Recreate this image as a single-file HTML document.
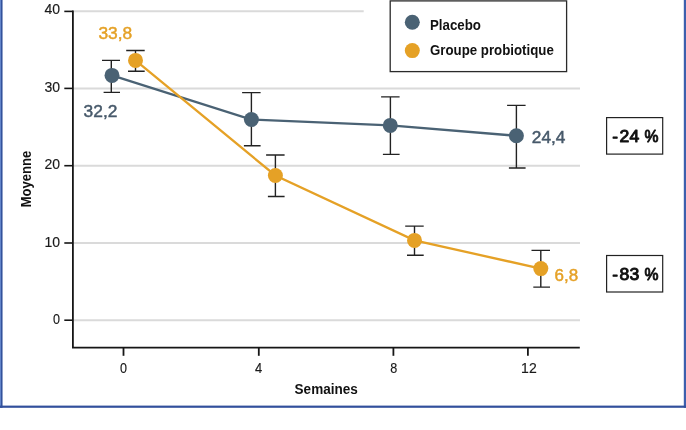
<!DOCTYPE html>
<html lang="fr">
<head>
<meta charset="utf-8">
<title>Moyenne – Placebo vs Groupe probiotique</title>
<style>
html,body{margin:0;padding:0;background:#fff;}
body{width:686px;height:430px;overflow:hidden;position:relative;}
svg{display:block;position:absolute;left:0;top:0;}
text{font-family:"Liberation Sans",sans-serif;}
.tick{font-size:14px;fill:#1a1a1a;stroke:#1a1a1a;stroke-width:0.15px;}
.bold{font-weight:bold;fill:#111;}
.pct{font-size:17.2px;fill:#111;stroke:#111;stroke-width:0.95px;stroke-linejoin:round;}
.val{font-size:16.4px;stroke-width:0.45px;}
</style>
</head>
<body>
<svg width="686" height="430" viewBox="0 0 686 430">
  <rect x="0" y="0" width="686" height="430" fill="#ffffff"/>
  <!-- frame -->
  <g>
    <rect x="0" y="0" width="2.55" height="407.8" fill="#33529c"/>
    <rect x="0" y="0" width="1" height="407.8" fill="#6485ca"/>
    <rect x="683.8" y="0" width="2.2" height="407.8" fill="#3d5fad"/>
    <rect x="0" y="405.6" width="686" height="2.2" fill="#32509c"/>
  </g>

  <!-- grid lines -->
  <g stroke="#dadada" stroke-width="2">
    <line x1="73" y1="11.2" x2="363.7" y2="11.2"/>
    <line x1="73" y1="88.5" x2="580" y2="88.5"/>
    <line x1="73" y1="165.8" x2="580" y2="165.8"/>
    <line x1="73" y1="243.1" x2="580" y2="243.1"/>
    <line x1="73" y1="320.2" x2="580" y2="320.2"/>
  </g>

  <!-- axes -->
  <g stroke="#161616" stroke-width="1.8" fill="none">
    <polyline points="72.9,10.6 72.9,347.7 579.8,347.7"/>
    <line x1="64.3" y1="11.4" x2="72.9" y2="11.4" stroke-width="1.6"/>
    <line x1="64.3" y1="88.4" x2="72.9" y2="88.4" stroke-width="1.6"/>
    <line x1="64.3" y1="165.7" x2="72.9" y2="165.7" stroke-width="1.6"/>
    <line x1="64.3" y1="243.0" x2="72.9" y2="243.0" stroke-width="1.6"/>
    <line x1="64.3" y1="320.2" x2="72.9" y2="320.2" stroke-width="1.6"/>
    <line x1="123.5" y1="347.7" x2="123.5" y2="355.8"/>
    <line x1="258.8" y1="347.7" x2="258.8" y2="355.8"/>
    <line x1="393.4" y1="347.7" x2="393.4" y2="355.8"/>
    <line x1="527.9" y1="347.7" x2="527.9" y2="355.8"/>
  </g>

  <!-- y tick labels -->
  <g class="tick" text-anchor="end">
    <text x="60.1" y="14.0">40</text>
    <text x="60.1" y="91.9">30</text>
    <text x="60.1" y="169.4">20</text>
    <text x="60.1" y="246.8">10</text>
    <text x="60.0" y="324.0" textLength="7" lengthAdjust="spacingAndGlyphs">0</text>
  </g>
  <!-- x tick labels -->
  <g class="tick" text-anchor="middle">
    <text x="123.6" y="373.2" textLength="7" lengthAdjust="spacingAndGlyphs">0</text>
    <text x="258.5" y="373.2" textLength="7.2" lengthAdjust="spacingAndGlyphs">4</text>
    <text x="393.8" y="373.2" textLength="7" lengthAdjust="spacingAndGlyphs">8</text>
    <text x="528.9" y="373.2">12</text>
  </g>

  <!-- axis titles -->
  <text class="bold" x="294.6" y="393.6" font-size="14" textLength="63.2" lengthAdjust="spacingAndGlyphs">Semaines</text>
  <text class="bold" transform="translate(31.3 207.3) rotate(-90)" font-size="14" textLength="56.6" lengthAdjust="spacingAndGlyphs">Moyenne</text>

  <!-- error bars -->
  <g stroke="#222" stroke-width="1.4" fill="none">
    <path d="M111.3 60.4V92.4M102.0 60.4H120.0M103.6 92.4H120.0"/>
    <path d="M251.4 92.6V145.7M242.1 92.6H260.6M243.9 145.7H260.6"/>
    <path d="M390.4 96.9V154.4M381.1 96.9H399.6M382.9 154.4H399.6"/>
    <path d="M516.4 105.4V168.0M507.1 105.4H525.6M508.9 168.0H525.6"/>
    <path d="M135.5 50.5V71.2M126.2 50.5H144.7M128.0 71.2H144.7"/>
    <path d="M275.4 155.0V196.5M266.1 155.0H284.6M267.9 196.5H284.6"/>
    <path d="M414.5 226.1V255.3M405.2 226.1H423.7M407.0 255.3H423.7"/>
    <path d="M540.8 250.4V287.1M531.5 250.4H550.0M533.3 287.1H550.0"/>
  </g>

  <!-- series lines -->
  <polyline points="112,75.4 251.4,119.5 390.3,125.4 516.4,135.8" fill="none" stroke="#4a6274" stroke-width="2.3"/>
  <polyline points="135.5,60.4 275.4,175.5 414.5,240.4 540.8,268.6" fill="none" stroke="#e5a126" stroke-width="2.3"/>

  <!-- points -->
  <g fill="#4a6274">
    <circle cx="112" cy="75.4" r="7.5"/>
    <circle cx="251.4" cy="119.5" r="7.5"/>
    <circle cx="390.3" cy="125.4" r="7.5"/>
    <circle cx="516.4" cy="135.8" r="7.5"/>
  </g>
  <g fill="#e5a126">
    <circle cx="135.5" cy="60.4" r="7.5"/>
    <circle cx="275.4" cy="175.5" r="7.5"/>
    <circle cx="414.5" cy="240.4" r="7.5"/>
    <circle cx="540.8" cy="268.6" r="7.5"/>
  </g>

  <!-- value labels -->
  <g class="val">
    <text x="98.4" y="39.2" fill="#e5a126" stroke="#e5a126" textLength="33.8" lengthAdjust="spacingAndGlyphs">33,8</text>
    <text x="83.6" y="117.4" fill="#47596a" stroke="#47596a" textLength="33.8" lengthAdjust="spacingAndGlyphs">32,2</text>
    <text x="531.8" y="142.9" fill="#47596a" stroke="#47596a" textLength="33.6" lengthAdjust="spacingAndGlyphs">24,4</text>
    <text x="554.6" y="280.7" fill="#e5a126" stroke="#e5a126" textLength="23.6" lengthAdjust="spacingAndGlyphs">6,8</text>
  </g>

  <!-- legend -->
  <rect x="390.2" y="0.9" width="176.4" height="70.7" fill="#ffffff" stroke="#2a2a2a" stroke-width="1.3"/>
  <circle cx="412.3" cy="22.3" r="7.5" fill="#4a6274"/>
  <circle cx="412.3" cy="50.6" r="7.5" fill="#e5a126"/>
  <text class="bold" x="430.0" y="29.7" font-size="14" textLength="51" lengthAdjust="spacingAndGlyphs">Placebo</text>
  <text class="bold" x="430.0" y="54.8" font-size="14" textLength="123.8" lengthAdjust="spacingAndGlyphs">Groupe probiotique</text>

  <!-- percentage boxes -->
  <rect x="606.6" y="117.6" width="56.1" height="36.5" fill="#ffffff" stroke="#222" stroke-width="1.2"/>
  <text class="pct" y="142.3"><tspan x="612.3">-</tspan><tspan x="619.6" textLength="19.6" lengthAdjust="spacingAndGlyphs">24</tspan><tspan x="644.6" textLength="14" lengthAdjust="spacingAndGlyphs">%</tspan></text>
  <rect x="606.6" y="255.5" width="56.1" height="36.5" fill="#ffffff" stroke="#222" stroke-width="1.2"/>
  <text class="pct" y="280.2"><tspan x="612.3">-</tspan><tspan x="619.6" textLength="19.6" lengthAdjust="spacingAndGlyphs">83</tspan><tspan x="644.6" textLength="14" lengthAdjust="spacingAndGlyphs">%</tspan></text>
</svg>
</body>
</html>
